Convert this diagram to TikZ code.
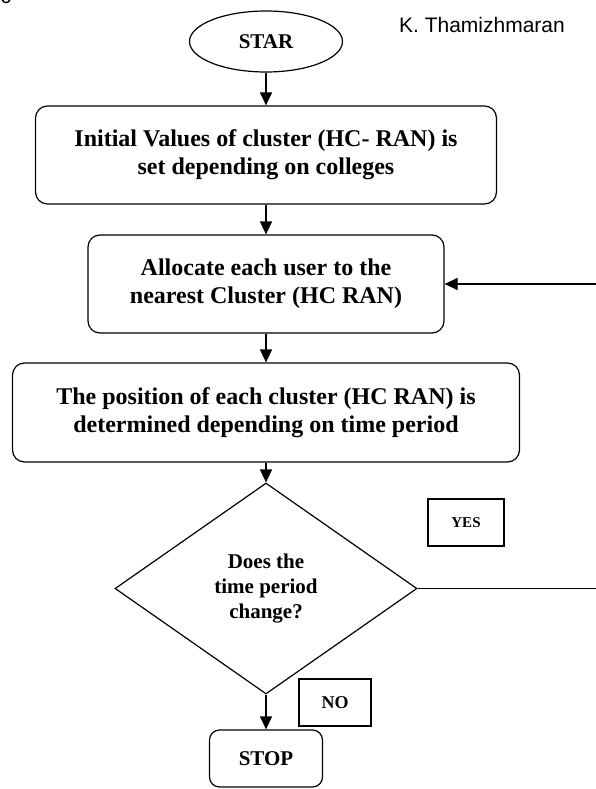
\documentclass[tikz,border=0pt]{standalone}
\usepackage{fontspec}
\setmainfont{Liberation Serif}
\newfontfamily\arialfont{Liberation Sans}
\usetikzlibrary{arrows.meta, shapes.geometric, calc}
\tikzstyle{every picture}+=[line width=1.2pt]
\tikzstyle{proc} = [draw, rounded corners=12pt, align=center, inner sep=0pt,
  font=\bfseries\fontsize{24}{28}\selectfont]
\tikzstyle{term} = [draw, ellipse, inner sep=0pt, font=\bfseries\fontsize{21}{25}\selectfont]
\tikzstyle{ask} = [draw, diamond, inner sep=0pt, align=center,
  font=\bfseries\fontsize{21}{25}\selectfont]
\tikzstyle{tag} = [draw, inner sep=0pt, font=\bfseries]
\tikzstyle{arr} = [-{Triangle[length=13pt,width=12pt]}]

\begin{document}
\begin{tikzpicture}[x=1pt, y=-1pt]
  \useasboundingbox (0,0) rectangle (595,789);
  % page header
  \node[anchor=base east, font=\arialfont\fontsize{21}{25}\selectfont] (hdr) at (15,4) {bc};
  \node[font=\arialfont\fontsize{21}{25}\selectfont] (auth) at (482,25) {K. Thamizhmaran};

  \node[term, minimum width=153pt, minimum height=61pt] (start) at (266,41.5) {STAR};
  \node[proc, minimum width=461pt, minimum height=98pt] (init) at (266,155)
    {Initial Values of cluster (HC- RAN) is\\ set depending on colleges};
  \node[proc, minimum width=356pt, minimum height=98pt] (alloc) at (266,284)
    {Allocate each user to the\\ nearest Cluster (HC RAN)};
  \node[proc, minimum width=507pt, minimum height=99pt] (pos) at (266,412.5)
    {The position of each cluster (HC RAN) is\\ determined depending on time period};
  \node[ask, minimum width=302pt, minimum height=211pt] (dec) at (266,588.5)
    {Does the\\ time period\\ change?};
  \node[proc, rounded corners=10pt, font=\bfseries\fontsize{21}{25}\selectfont,
    minimum width=113pt, minimum height=57pt] (stop) at (266,758.5) {STOP};

  \node[tag, minimum width=76pt, minimum height=47pt, font=\bfseries\fontsize{15}{18}\selectfont] (yes) at (466,522.5) {YES};
  \node[tag, minimum width=72pt, minimum height=47pt, font=\bfseries\fontsize{18}{21}\selectfont] (no) at (335,702.5) {NO};

  \draw[arr] (start) -- (init);
  \draw[arr] (init) -- (alloc);
  \draw[arr] (alloc) -- (pos);
  \draw[arr] (pos) -- (dec);
  \draw[arr] (dec) -- (stop);

  % loop back leaves the page on the right
  \coordinate (back) at (612,588.5);
  \draw[arr] (dec.east) -- (back) |- (alloc.east);
\end{tikzpicture}
\end{document}
